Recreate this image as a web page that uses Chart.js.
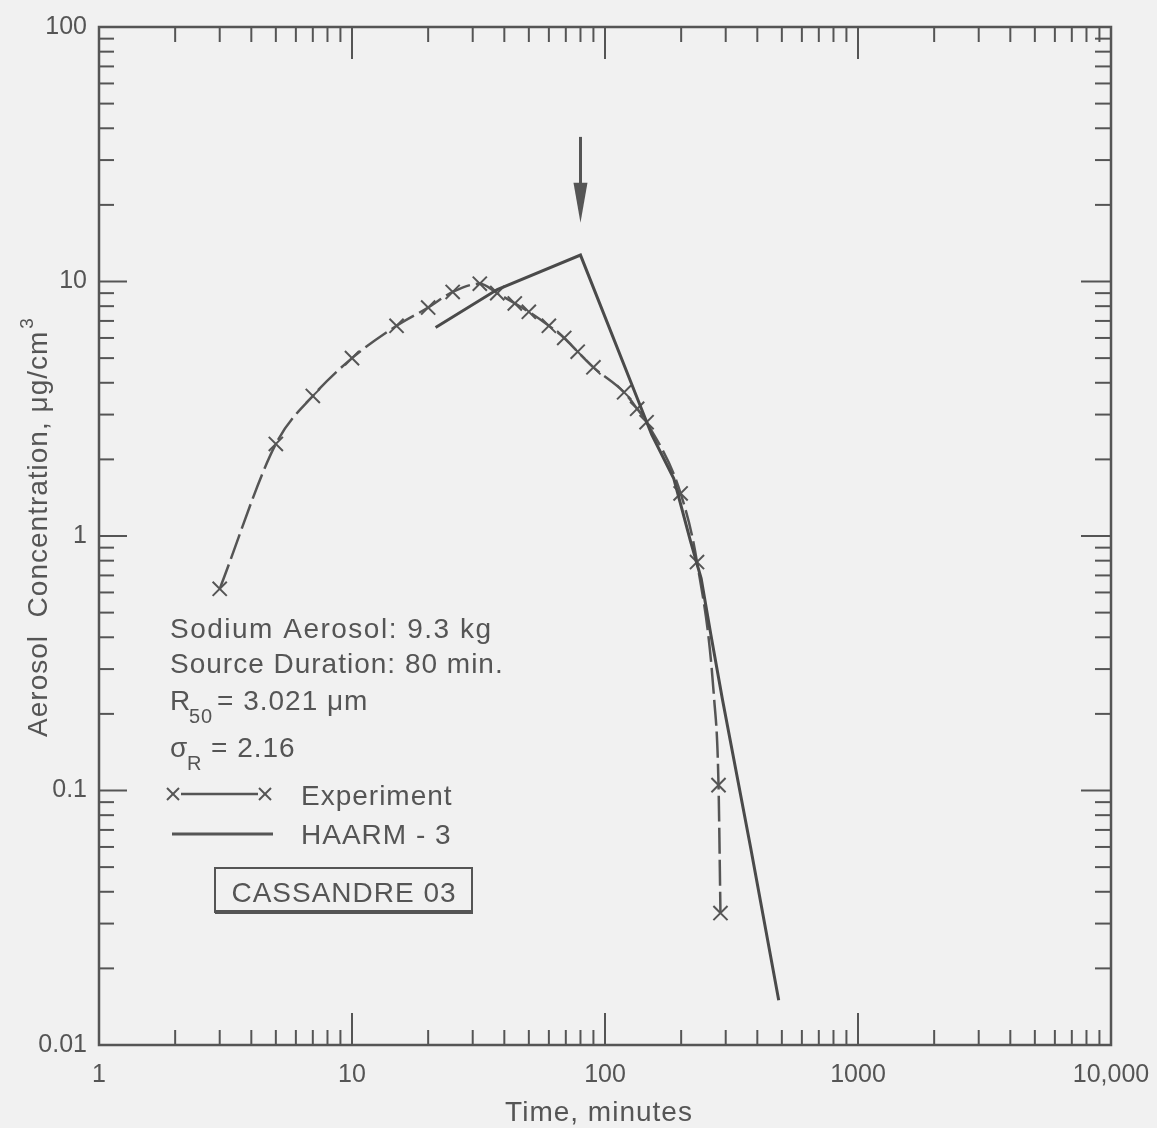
<!DOCTYPE html>
<html>
<head>
<meta charset="utf-8">
<script src="https://cdn.jsdelivr.net/npm/chart.js@4.4.1/dist/chart.umd.min.js"></script>
<style>
  html, body { margin: 0; padding: 0; background: #f1f1f1; }
  canvas { display: block; }
</style>
</head>
<body>
<canvas id="chart" width="1157" height="1128"></canvas>
<script>
// axis labels
const timeTicks = [1, 10, 100, 1000, 10000];
const timeTickLabels = ['1', '10', '100', '1000', '10,000'];
const concTicks = [0.01, 0.1, 1, 10, 100];
const concTickLabels = ['0.01', '0.1', '1', '10', '100'];

// experiment (x markers), minutes / ug per cm3
const expTime = [3, 5, 7, 10, 15, 20, 25, 32, 37.5, 44, 50, 60, 69, 78, 90, 119, 134, 146, 199, 231, 281, 286];
const expConc = [0.62, 2.3, 3.55, 5.0, 6.7, 7.9, 9.1, 9.8, 9.0, 8.2, 7.6, 6.7, 6.0, 5.3, 4.6, 3.67, 3.16, 2.8, 1.47, 0.79, 0.105, 0.033];
// bend of the experiment curve with no marker
const expBendTime = [270];
const expBendConc = [0.229];

// HAARM-3 calculation
const haarmTime = [21.4, 37.5, 80, 153, 187, 218, 240, 262, 291, 376, 486];
const haarmConc = [6.6, 9.3, 12.7, 2.5, 1.68, 0.95, 0.68, 0.41, 0.229, 0.06, 0.015];

// end of source arrow
const arrowTime = 80;
const arrowFrom = 37;
const arrowTo = 17;

const ink = '#555555';
const font = 'Liberation Sans';

const expPoints = expTime.map((t, i) => ({ x: t, y: expConc[i] }));
const expCurve = expPoints
  .concat(expBendTime.map((t, i) => ({ x: t, y: expBendConc[i] })))
  .sort((a, b) => a.x - b.x);
const haarmPoints = haarmTime.map((t, i) => ({ x: t, y: haarmConc[i] }));

function tickLabel(values, labels) {
  return function(v) {
    const i = values.findIndex(t => Math.abs(Math.log10(t) - Math.log10(v)) < 1e-6);
    return i >= 0 ? labels[i] : '';
  };
}

function line(ctx, x1, y1, x2, y2) {
  ctx.beginPath();
  ctx.moveTo(x1, y1);
  ctx.lineTo(x2, y2);
  ctx.stroke();
}

function cross(ctx, x, y, r) {
  line(ctx, x - r, y - r, x + r, y + r);
  line(ctx, x - r, y + r, x + r, y - r);
}

function text(ctx, str, x, y, size, align) {
  ctx.font = size + 'px "' + font + '"';
  ctx.textAlign = align || 'left';
  ctx.textBaseline = 'alphabetic';
  ctx.fillText(str, x, y);
}

// frame with inward ticks, arrow, axis titles, notes
const decor = {
  id: 'decor',
  afterDraw(chart) {
    const { ctx, chartArea: a, scales: { x, y } } = chart;
    ctx.save();
    ctx.strokeStyle = ink;
    ctx.fillStyle = ink;
    ctx.lineCap = 'butt';

    ctx.lineWidth = 2.5;
    ctx.strokeRect(a.left, a.top, a.right - a.left, a.bottom - a.top);

    ctx.lineWidth = 2;
    for (let e = 0; e < 4; e++) {
      for (let m = 1; m <= 9; m++) {
        if (m === 1 && e === 0) continue;
        const px = x.getPixelForValue(m * Math.pow(10, e));
        const len = m === 1 ? 32 : 15;
        line(ctx, px, a.bottom, px, a.bottom - len);
        line(ctx, px, a.top, px, a.top + len);
      }
    }
    for (let e = -2; e < 2; e++) {
      for (let m = 1; m <= 9; m++) {
        if (m === 1 && e === -2) continue;
        const py = y.getPixelForValue(m * Math.pow(10, e));
        line(ctx, a.left, py, a.left + (m === 1 ? 28 : 15), py);
        line(ctx, a.right, py, a.right - (m === 1 ? 30 : 16), py);
      }
    }

    // arrow marking end of source
    const ax = x.getPixelForValue(arrowTime);
    const ay1 = y.getPixelForValue(arrowFrom);
    const ay2 = y.getPixelForValue(arrowTo);
    ctx.lineWidth = 3;
    line(ctx, ax, ay1, ax, ay2 - 30);
    ctx.beginPath();
    ctx.moveTo(ax - 7, ay2 - 40);
    ctx.lineTo(ax + 7, ay2 - 40);
    ctx.lineTo(ax, ay2);
    ctx.closePath();
    ctx.fill();

    ctx.letterSpacing = '1px';

    // axis titles
    text(ctx, 'Time, minutes', (a.left + a.right) / 2 - 6, 1121, 28, 'center');
    ctx.save();
    ctx.translate(47, 528);
    ctx.rotate(-Math.PI / 2);
    const main = 'Aerosol  Concentration, \u03bcg/cm';
    ctx.font = '28px "' + font + '"';
    const w = ctx.measureText(main).width;
    ctx.font = '19px "' + font + '"';
    const w3 = ctx.measureText('3').width;
    const start = -(w + w3) / 2;
    text(ctx, main, start, 0, 28);
    text(ctx, '3', start + w + 2, -14, 19);
    ctx.restore();

    // notes
    ctx.letterSpacing = '1.5px';
    text(ctx, 'Sodium Aerosol: 9.3 kg', 170, 638, 28);
    ctx.letterSpacing = '1px';
    text(ctx, 'Source Duration: 80 min.', 170, 673, 28);
    text(ctx, 'R', 170, 710, 28);
    text(ctx, '50', 189, 723, 20);
    text(ctx, '= 3.021 \u03bcm', 217, 710, 28);
    text(ctx, '\u03c3', 170, 757, 28);
    text(ctx, 'R', 187, 770, 20);
    text(ctx, '= 2.16', 211, 757, 28);

    // legend
    ctx.lineWidth = 2;
    cross(ctx, 173, 794, 6);
    cross(ctx, 265, 794, 6);
    ctx.lineWidth = 2.5;
    line(ctx, 181, 794, 258, 794);
    text(ctx, 'Experiment', 301, 805, 28);
    ctx.lineWidth = 3;
    line(ctx, 172, 834, 273, 834);
    text(ctx, 'HAARM - 3', 301, 844, 28);

    // case label
    ctx.lineWidth = 2;
    ctx.strokeRect(215, 868, 257, 44);
    ctx.lineWidth = 4;
    line(ctx, 215, 912, 473, 912);
    text(ctx, 'CASSANDRE 03', 344, 902, 28, 'center');

    ctx.restore();
  }
};

new Chart(document.getElementById('chart'), {
  type: 'scatter',
  data: {
    datasets: [
      {
        label: 'HAARM-3',
        data: haarmPoints,
        showLine: true,
        borderColor: '#4a4a4a',
        borderWidth: 3,
        pointRadius: 0,
        tension: 0
      },
      {
        label: 'Experiment curve',
        data: expCurve,
        showLine: true,
        borderColor: '#555555',
        borderWidth: 2.5,
        borderDash: [26, 6],
        pointRadius: 0,
        cubicInterpolationMode: 'monotone'
      },
      {
        label: 'Experiment',
        data: expPoints,
        showLine: false,
        pointStyle: 'crossRot',
        pointRadius: 10,
        pointBorderWidth: 2,
        pointBorderColor: '#555555'
      }
    ]
  },
  options: {
    responsive: false,
    animation: false,
    events: [],
    layout: { padding: { left: 0, top: 27, right: 46, bottom: 0 } },
    plugins: {
      legend: { display: false },
      tooltip: { enabled: false }
    },
    scales: {
      x: {
        type: 'logarithmic',
        position: 'bottom',
        min: 1,
        max: 10000,
        grid: { display: false, drawTicks: false },
        border: { display: false },
        ticks: {
          autoSkip: false,
          maxRotation: 0,
          padding: 15,
          color: ink,
          font: { family: font, size: 25 },
          callback: tickLabel(timeTicks, timeTickLabels)
        },
        afterFit(scale) {
          scale.height = 83;
          scale.paddingLeft = 0;
          scale.paddingRight = 0;
        }
      },
      y: {
        type: 'logarithmic',
        position: 'left',
        min: 0.01,
        max: 100,
        grid: { display: false, drawTicks: false },
        border: { display: false },
        ticks: {
          autoSkip: false,
          padding: 12,
          color: ink,
          font: { family: font, size: 25 },
          callback: tickLabel(concTicks, concTickLabels)
        },
        afterFit(scale) {
          scale.width = 99;
          scale.paddingTop = 0;
          scale.paddingBottom = 0;
        }
      }
    }
  },
  plugins: [decor]
});
</script>
</body>
</html>
